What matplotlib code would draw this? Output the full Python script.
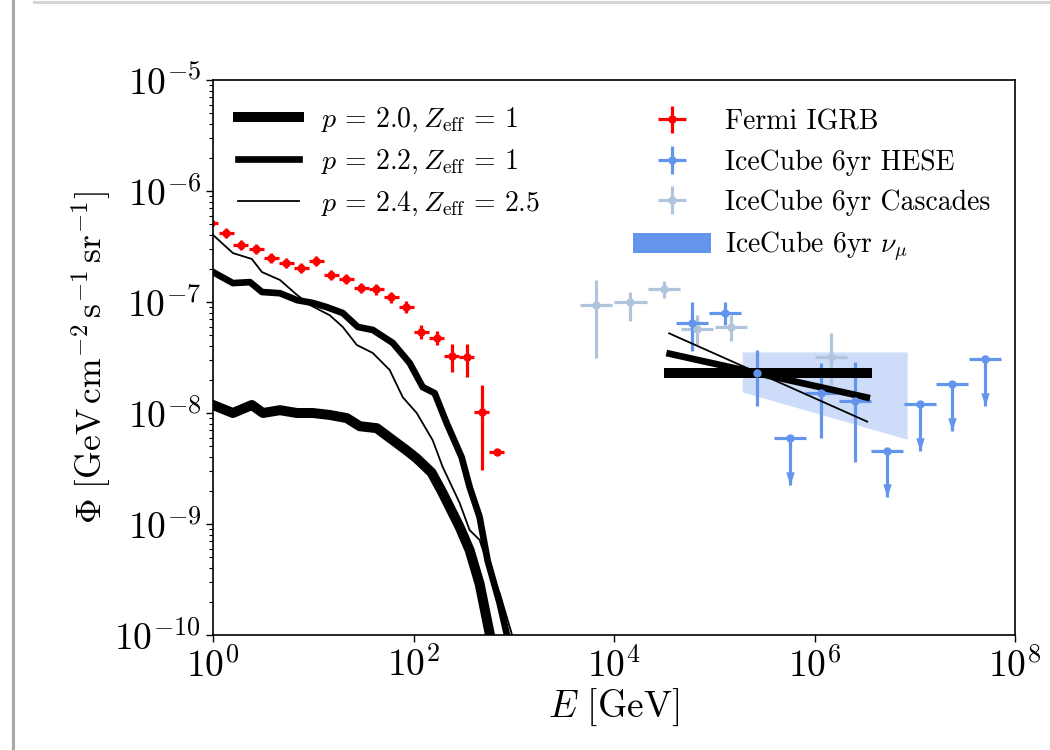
import matplotlib
matplotlib.use('Agg')
import matplotlib.pyplot as plt
import matplotlib.lines as mlines
import matplotlib.patches as mpatches
from matplotlib.ticker import NullLocator
import numpy as np

plt.rcParams['font.family'] = 'serif'
plt.rcParams['font.serif'] = ['cmr10']
plt.rcParams['mathtext.fontset'] = 'cm'
plt.rcParams['axes.unicode_minus'] = False
plt.rcParams['axes.formatter.use_mathtext'] = True

# --- model curves (low energy) ---
E_p20 = [1.0, 1.58, 2.44, 3.15, 4.65, 6.87, 9.9, 14.6, 21.6, 29.1, 43.0, 62.1, 85.5,
         107.6, 151.7, 195.4, 288.4, 363.1, 456.0, 574.1, 644.2]
phi_p20 = [1.18e-8, 1.0e-8, 1.18e-8, 1.0e-8, 1.06e-8, 1.0e-8, 1.0e-8, 9.6e-9, 9.0e-9,
           7.6e-9, 7.3e-9, 5.7e-9, 4.6e-9, 3.9e-9, 2.9e-9, 1.9e-9, 9.4e-10, 5.8e-10,
           2.9e-10, 1.04e-10, 6e-11]
E_p22 = [1.0, 1.58, 2.34, 3.08, 4.65, 6.87, 9.9, 13.6, 19.7, 27.8, 39.3, 62.1, 91.6,
         123.6, 162.6, 214.3, 302.0, 363.1, 456.0, 548.3, 722.8, 847.2, 950.6]
phi_p22 = [1.86e-7, 1.48e-7, 1.51e-7, 1.23e-7, 1.2e-7, 1.04e-7, 9.8e-8, 9.0e-8, 7.96e-8,
           5.96e-8, 5.6e-8, 4.28e-8, 2.82e-8, 1.71e-8, 1.51e-8, 8.1e-9, 4.0e-9, 2.15e-9,
           1.16e-9, 4.7e-10, 1.94e-10, 1.04e-10, 6e-11]
E_p24 = [1.0, 1.58, 2.44, 3.08, 4.65, 6.87, 9.25, 14.6, 19.7, 27.2, 39.3, 57.9, 78.0,
         107.6, 155.2, 195.4, 288.4, 363.1, 456.0, 574.1, 722.8, 950.6, 1042]
phi_p24 = [4.02e-7, 2.76e-7, 2.44e-7, 1.86e-7, 1.58e-7, 1.16e-7, 9.4e-8, 7.6e-8, 5.96e-8,
           4.1e-8, 3.47e-8, 2.44e-8, 1.39e-8, 1.0e-8, 5.7e-9, 3.27e-9, 1.55e-9, 8.8e-10,
           7.2e-10, 3.86e-10, 2.39e-10, 1.04e-10, 7e-11]

# --- neutrino power laws (high energy), end points ---
E_nu_p20 = [3.18e4, 3.75e6]
phi_nu_p20 = [2.29e-8, 2.29e-8]
E_nu_p22 = [3.33e4, 3.58e6]
phi_nu_p22 = [3.47e-8, 1.36e-8]
E_nu_p24 = [3.48e4, 3.42e6]
phi_nu_p24 = [5.26e-8, 8.3e-9]

# --- Fermi IGRB ---
fermi_E = [0.95, 1.35, 1.9, 2.7, 3.8, 5.4, 7.6, 10.7, 15.1, 21.4, 30.2, 42.7, 60.3,
           85.1, 120, 170, 240, 339, 479, 676]
fermi_phi = [5.15e-7, 4.19e-7, 3.27e-7, 3.0e-7, 2.49e-7, 2.24e-7, 2.02e-7, 2.34e-7,
             1.75e-7, 1.61e-7, 1.34e-7, 1.31e-7, 1.11e-7, 9.0e-8, 5.37e-8, 4.75e-8,
             3.27e-8, 3.2e-8, 1.02e-8, 4.46e-9]
fermi_up = [0.11, 0.11, 0.11, 0.11, 0.11, 0.11, 0.11, 0.11, 0.11, 0.11, 0.11, 0.12,
            0.12, 0.13, 0.16, 0.16, 0.28, 0.31, 0.75, 0.0]
fermi_dn = [0.10, 0.10, 0.10, 0.10, 0.10, 0.10, 0.10, 0.10, 0.10, 0.10, 0.10, 0.11,
            0.11, 0.12, 0.14, 0.14, 0.28, 0.34, 0.70, 0.0]
fermi_half_bin = 0.075  # dex

# --- IceCube HESE ---
hese_E = [6.04e4, 1.29e5, 2.68e5, 5.71e5, 1.17e6, 2.54e6, 5.28e6, 1.13e7, 2.35e7, 5.0e7]
hese_phi = [6.47e-8, 7.96e-8, 2.29e-8, 5.96e-9, 1.51e-8, 1.28e-8, 4.55e-9, 1.2e-8,
            1.82e-8, 3.06e-8]
hese_hi = [1.0e-7, 1.0e-7, 3.70e-8, 5.96e-9, 2.82e-8, 2.88e-8, 4.55e-9, 1.2e-8,
           1.82e-8, 3.06e-8]
hese_lo = [3.62e-8, 6.21e-8, 1.16e-8, 2.25e-9, 5.96e-9, 3.62e-9, 1.75e-9, 4.55e-9,
           6.9e-9, 1.16e-8]
hese_ul = [False, False, False, True, False, False, True, True, True, True]
hese_half_bin = 0.16

# --- IceCube cascades ---
casc_E = [6.68e3, 1.46e4, 3.18e4, 6.78e4, 1.48e5, 1.46e6]
casc_phi = [9.4e-8, 1.0e-7, 1.31e-7, 5.71e-8, 5.96e-8, 3.2e-8]
casc_hi = [1.58e-7, 1.23e-7, 1.55e-7, 7.64e-8, 7.64e-8, 5.26e-8]
casc_lo = [3.13e-8, 6.75e-8, 1.09e-7, 4.1e-8, 4.46e-8, 1.79e-8]
casc_half_bin = 0.16

# --- IceCube numu band ---
numu_E = [1.9e5, 8.4e6]
numu_hi = [3.55e-8, 3.55e-8]
numu_lo = [1.55e-8, 5.8e-9]

red = 'red'
blue = '#6495ED'
lblue = '#B0C4DE'

fig = plt.figure(figsize=(10.5, 7.5), dpi=100)
ax = fig.add_axes([213 / 1050, 1 - 635 / 750, 802 / 1050, 555 / 750])
ax.set_xscale('log')
ax.set_yscale('log')

ax.fill_between(numu_E, numu_lo, numu_hi, color=blue, alpha=0.32, lw=0, zorder=1)


def xerr_of(E, half):
    E = np.array(E)
    return [E * (1 - 10 ** -half), E * (10 ** half - 1)]


cphi = np.array(casc_phi)
casc = ax.errorbar(casc_E, casc_phi, xerr=xerr_of(casc_E, casc_half_bin),
                   yerr=[cphi - np.array(casc_lo), np.array(casc_hi) - cphi],
                   fmt='o', color=lblue, ms=5, elinewidth=2.3, capsize=0, zorder=2)

hphi = np.array(hese_phi)
hul = np.array(hese_ul)
hese = ax.errorbar(hese_E, hese_phi, xerr=xerr_of(hese_E, hese_half_bin),
                   yerr=[hphi - np.array(hese_lo), np.array(hese_hi) - hphi],
                   fmt='none', ecolor=blue, elinewidth=2.3, capsize=0, zorder=2)
arrow = [(-0.45, 1.4), (0.45, 1.4), (0, 0)]
ax.plot(np.array(hese_E)[hul], np.array(hese_lo)[hul], ls='none', marker=arrow,
        ms=19, color=blue, mew=0, zorder=2)

fphi = np.array(fermi_phi)
fermi = ax.errorbar(fermi_E, fermi_phi, xerr=xerr_of(fermi_E, fermi_half_bin),
                    yerr=[fphi * np.array(fermi_dn), fphi * np.array(fermi_up)],
                    fmt='o', color=red, ms=5, elinewidth=2.3, capsize=0, zorder=2)

l20, = ax.plot(E_p20, phi_p20, color='k', lw=7.2, zorder=3)
l22, = ax.plot(E_p22, phi_p22, color='k', lw=4.8, zorder=3)
l24, = ax.plot(E_p24, phi_p24, color='k', lw=1.3, zorder=3)
ax.plot(E_nu_p20, phi_nu_p20, color='k', lw=7.2, solid_capstyle='butt', zorder=3)
ax.plot(E_nu_p22, phi_nu_p22, color='k', lw=4.8, solid_capstyle='butt', zorder=3)
ax.plot(E_nu_p24, phi_nu_p24, color='k', lw=1.3, solid_capstyle='butt', zorder=3)

ax.plot(hese_E, hese_phi, ls='none', marker='o', ms=5, color=blue, zorder=4)
hese_handle = ax.errorbar([], [], xerr=[], yerr=[], fmt='o', color=blue, ms=5,
                          elinewidth=2.3, capsize=0)

ax.set_xlim(1, 1e8)
ax.set_ylim(1e-10, 1e-5)
ax.set_xticks([1, 1e2, 1e4, 1e6, 1e8])
ax.xaxis.set_minor_locator(NullLocator())
ax.tick_params(which='major', direction='out', length=5, width=1, labelsize=27)
ax.tick_params(which='minor', direction='out', length=3, width=0.8)
for s in ax.spines.values():
    s.set_linewidth(1.2)

ax.set_xlabel(r'$E\ [\mathrm{GeV}]$', fontsize=27, labelpad=2)
ax.set_ylabel(r'$\Phi\ [\mathrm{GeV\,cm^{-2}\,s^{-1}\,sr^{-1}}]$', fontsize=25.5,
              labelpad=0)

leg1 = ax.legend([l20, l22, l24],
                 [r'$p\,=\,2.0,Z_{\mathrm{eff}}\,=\,1$',
                  r'$p\,=\,2.2,Z_{\mathrm{eff}}\,=\,1$',
                  r'$p\,=\,2.4,Z_{\mathrm{eff}}\,=\,2.5$'],
                 loc='upper left', bbox_to_anchor=(0.0, 1.0), frameon=False,
                 fontsize=20, handlelength=2.2)
ax.add_artist(leg1)
numu_patch = mpatches.Patch(color=blue, lw=0)
ax.legend([fermi, hese_handle, casc, numu_patch],
          ['Fermi IGRB', 'IceCube 6yr HESE', 'IceCube 6yr Cascades',
           r'IceCube 6yr $\nu_\mu$'],
          loc='upper left', bbox_to_anchor=(0.493, 0.993), frameon=False,
          fontsize=20, handlelength=2.8, handletextpad=0.5)

# screenshot frame
fig.add_artist(mlines.Line2D([13 / 1050, 13 / 1050], [0, 1], transform=fig.transFigure,
                             color='#a6a6a6', lw=2.2))
fig.add_artist(mlines.Line2D([34 / 1050, 1], [1 - 1.5 / 750, 1 - 1.5 / 750],
                             transform=fig.transFigure, color='#d6d6d6', lw=2.2))

fig.savefig('out.png', dpi=100)
